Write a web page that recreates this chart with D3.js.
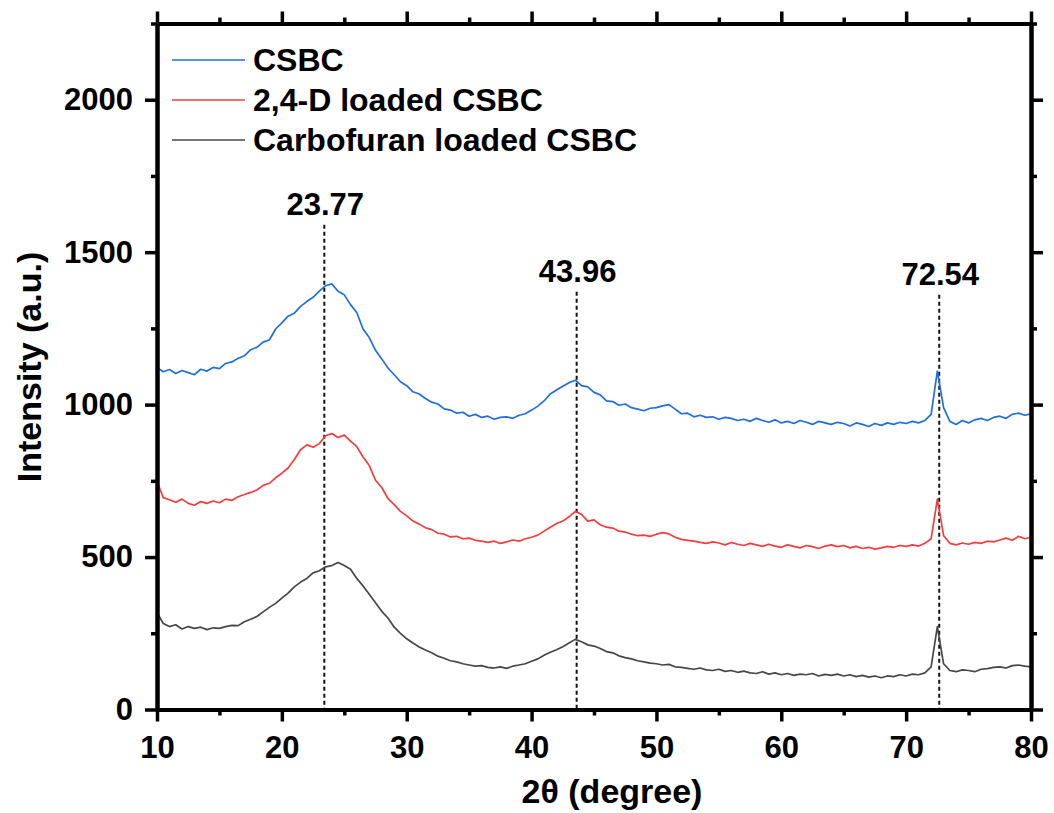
<!DOCTYPE html>
<html>

<head>
    <meta charset="utf-8">
    <style>
        body {
            margin: 0;
            background-color: #ffffff;
        }

        svg {
            display: block;
            font-family: "Liberation Sans", Arial, sans-serif;
            font-weight: bold;
        }

        .axis path,
        .axis line {
            stroke: #000;
        }

        .axis text {
            font-family: "Liberation Sans", Arial, sans-serif;
            font-weight: bold;
            font-size: 31px;
            fill: #000;
        }
    </style>
</head>

<body>
    <div id="chart"></div>

    <script src="https://cdn.jsdelivr.net/npm/d3@7"></script>
    <script>
        // 2-theta grid, 0.5 degree steps from 10 to 80
        var angles = d3.range(10, 80.001, 0.5);

        var seriesNames = ["CSBC", "2,4-D loaded CSBC", "Carbofuran loaded CSBC"];

        var csbc = [
            1122, 1108, 1115, 1102, 1112, 1105, 1098, 1116, 1110, 1122,
            1118, 1135, 1140, 1152, 1160, 1180, 1188, 1205, 1212, 1248,
            1268, 1290, 1300, 1322, 1338, 1352, 1372, 1390, 1396, 1372,
            1360, 1328, 1302, 1248, 1220, 1178, 1150, 1120, 1098, 1075,
            1062, 1042, 1035, 1020, 1008, 1002, 986, 982, 972, 975,
            962, 968, 958, 962, 952, 958, 960, 955, 965, 970,
            982, 995, 1012, 1035, 1048, 1060, 1072, 1080, 1062, 1058,
            1040, 1032, 1012, 1010, 998, 1002, 990, 985, 980, 988,
            990, 996, 1000, 985, 970, 972, 960, 965, 958, 960,
            952, 958, 955, 948, 952, 945, 955, 948, 942, 950,
            940, 945, 938, 948, 942, 935, 945, 940, 935, 942,
            938, 930, 940, 935, 928, 938, 932, 940, 935, 942,
            938, 945, 940, 948, 968, 1110, 990, 945, 935, 948,
            940, 950, 955, 948, 958, 962, 955, 968, 972, 965,
            970
        ];

        var loaded24d = [
            748, 695, 688, 680, 690, 676, 670, 682, 676, 684,
            678, 690, 686, 698, 705, 712, 720, 735, 742, 760,
            775, 792, 820, 852, 868, 860, 872, 898, 905, 892,
            900, 880, 862, 828, 800, 752, 728, 692, 672, 650,
            635, 618, 608, 596, 590, 578, 575, 566, 568, 560,
            562, 555, 552, 548, 552, 545, 550, 556, 552, 560,
            565, 572, 585, 598, 610, 618, 632, 650, 640, 618,
            622, 606, 598, 595, 585, 582, 575, 570, 572, 568,
            575, 580, 576, 565, 558, 555, 552, 548, 545, 550,
            546, 540, 548, 542, 538, 545, 540, 535, 542, 536,
            532, 540, 535, 530, 538, 534, 528, 536, 540, 534,
            538, 530, 535, 528, 532, 526, 530, 535, 532, 538,
            535, 540, 536, 545, 560, 690, 570, 545, 540, 546,
            542, 548, 545, 552, 550, 556, 562, 555, 568, 560,
            565
        ];

        var carbofuran = [
            318, 282, 272, 278, 264, 272, 266, 270, 262, 268,
            266, 272, 276, 275, 288, 296, 305, 320, 335, 348,
            365, 382, 402, 418, 430, 448, 455, 468, 472, 482,
            472, 460, 430, 405, 378, 350, 322, 300, 270, 250,
            232, 218, 205, 195, 186, 175, 168, 160, 156, 150,
            146, 142, 144, 138, 136, 140, 135, 142, 146, 150,
            158, 166, 178, 188, 196, 206, 218, 230, 222, 212,
            208, 200, 190, 186, 176, 170, 166, 160, 156, 152,
            150, 146, 148, 140, 138, 135, 132, 136, 130, 128,
            132, 125, 128, 122, 126, 120, 118, 124, 116, 120,
            114, 118, 112, 116, 114, 118, 110, 115, 112, 116,
            110, 114, 108, 112, 106, 110, 104, 110, 108, 114,
            110, 116, 114, 120, 140, 272, 150, 128, 124, 130,
            128, 124, 132, 134, 138, 140, 136, 144, 146, 142,
            140
        ];

        var xTicks = [10, 20, 30, 40, 50, 60, 70, 80];
        var xMinorTicks = [15, 25, 35, 45, 55, 65, 75];
        var yTicks = [0, 500, 1000, 1500, 2000];
        var yMinorTicks = [250, 750, 1250, 1750, 2250];

        // peak markers: label, line position, label height, line top
        var peakLabels = ["23.77", "43.96", "72.54"];
        var peakPos = [23.4, 43.61, 72.65];
        var peakLabelY = [1622, 1402, 1392];
        var peakLineTop = [1590, 1370, 1360];

        var colors = ["#1f6fde", "#f63c3c", "#474747"];
        var series = [csbc, loaded24d, carbofuran];

        var width = 1054, height = 813;
        var plotLeft = 157, plotRight = 1031, plotTop = 23.5, plotBottom = 709.5;

        var svg = d3.select("#chart").append("svg")
            .attr("width", width)
            .attr("height", height);

        svg.append("rect")
            .attr("width", width)
            .attr("height", height)
            .attr("fill", "#fff");

        var x = d3.scaleLinear().domain([10, 80]).range([plotLeft, plotRight]);
        var y = d3.scaleLinear().domain([0, 2250]).range([plotBottom, plotTop]);

        svg.append("clipPath").attr("id", "plot-clip")
            .append("rect")
            .attr("x", plotLeft).attr("y", plotTop)
            .attr("width", plotRight - plotLeft).attr("height", plotBottom - plotTop);

        // dotted peak lines
        svg.selectAll(".peak-line")
            .data(peakPos)
            .enter()
            .append("line")
            .attr("class", "peak-line")
            .attr("x1", d => x(d))
            .attr("x2", d => x(d))
            .attr("y1", (d, i) => y(peakLineTop[i]))
            .attr("y2", y(0))
            .attr("stroke", "#111")
            .attr("stroke-width", 2)
            .attr("stroke-dasharray", "4,3");

        svg.selectAll(".peak-label")
            .data(peakLabels)
            .enter()
            .append("text")
            .attr("class", "peak-label")
            .attr("x", (d, i) => x(peakPos[i]) + 1)
            .attr("y", (d, i) => y(peakLabelY[i]))
            .attr("text-anchor", "middle")
            .attr("font-size", "31px")
            .text(d => d);

        // spectra
        var line = d3.line()
            .x((d, i) => x(angles[i]))
            .y(d => y(d));

        svg.append("g")
            .attr("clip-path", "url(#plot-clip)")
            .selectAll("path")
            .data(series)
            .enter()
            .append("path")
            .attr("d", d => line(d))
            .attr("fill", "none")
            .attr("stroke", (d, i) => colors[i])
            .attr("stroke-width", 1.7)
            .attr("stroke-linejoin", "round");

        // axes (major + minor on all four sides)
        function styleAxis(g) {
            g.attr("class", "axis");
            g.select(".domain").attr("stroke-width", 4);
            g.selectAll(".tick line").attr("stroke-width", 3.5);
        }

        svg.append("g")
            .attr("transform", "translate(0," + plotBottom + ")")
            .call(d3.axisBottom(x).tickValues(xTicks).tickSize(12).tickSizeOuter(0).tickPadding(14))
            .call(styleAxis);
        svg.append("g")
            .attr("transform", "translate(0," + plotBottom + ")")
            .call(d3.axisBottom(x).tickValues(xMinorTicks).tickSize(6).tickSizeOuter(0).tickFormat(""))
            .call(styleAxis);

        svg.append("g")
            .attr("transform", "translate(0," + plotTop + ")")
            .call(d3.axisTop(x).tickValues(xTicks).tickSize(12).tickSizeOuter(0).tickFormat(""))
            .call(styleAxis);
        svg.append("g")
            .attr("transform", "translate(0," + plotTop + ")")
            .call(d3.axisTop(x).tickValues(xMinorTicks).tickSize(6).tickSizeOuter(0).tickFormat(""))
            .call(styleAxis);

        svg.append("g")
            .attr("transform", "translate(" + plotLeft + ",0)")
            .call(d3.axisLeft(y).tickValues(yTicks).tickFormat(d3.format("d"))
                .tickSize(12).tickSizeOuter(0).tickPadding(12))
            .call(styleAxis);
        svg.append("g")
            .attr("transform", "translate(" + plotLeft + ",0)")
            .call(d3.axisLeft(y).tickValues(yMinorTicks).tickSize(6).tickSizeOuter(0).tickFormat(""))
            .call(styleAxis);

        svg.append("g")
            .attr("transform", "translate(" + plotRight + ",0)")
            .call(d3.axisRight(y).tickValues(yTicks).tickSize(12).tickSizeOuter(0).tickFormat(""))
            .call(styleAxis);
        svg.append("g")
            .attr("transform", "translate(" + plotRight + ",0)")
            .call(d3.axisRight(y).tickValues(yMinorTicks).tickSize(6).tickSizeOuter(0).tickFormat(""))
            .call(styleAxis);

        // axis titles
        svg.append("text")
            .attr("x", 612)
            .attr("y", 803)
            .attr("text-anchor", "middle")
            .attr("font-size", "34px")
            .text("2\u03b8 (degree)");

        svg.append("text")
            .attr("transform", "translate(41,367) rotate(-90)")
            .attr("text-anchor", "middle")
            .attr("font-size", "34px")
            .text("Intensity (a.u.)");

        // legend
        var legend = svg.append("g").selectAll("g")
            .data(seriesNames)
            .enter()
            .append("g")
            .attr("transform", (d, i) => "translate(172," + (60 + i * 40) + ")");

        legend.append("line")
            .attr("x1", 0).attr("x2", 73)
            .attr("stroke", (d, i) => colors[i])
            .attr("stroke-width", 1.7);

        legend.append("text")
            .attr("x", 81)
            .attr("y", 11)
            .attr("font-size", "32px")
            .text(d => d);
    </script>
</body>

</html>
